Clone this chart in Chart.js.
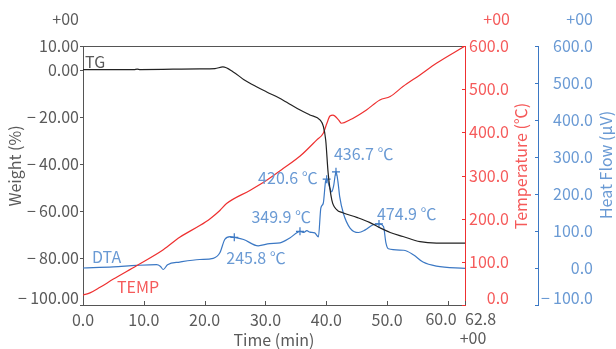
<!DOCTYPE html>
<html>
<head>
<meta charset="utf-8">
<script src="https://cdn.jsdelivr.net/npm/chart.js@4.4.1/dist/chart.umd.min.js"></script>
<style>
  body { margin: 0; background: #fff; }
  #wrap { width: 616px; height: 349px; }
</style>
</head>
<body>
<div id="wrap"><canvas id="chart-tga"></canvas></div>
<script>
// TG (weight %)
const tgTime = [0, 8.4, 8.9, 9.4, 19.2, 21.7, 23.0, 24.7, 26.4, 28.6, 30.2, 32.9, 35.7, 37.3, 39.0, 39.5, 39.9, 40.3, 40.9, 41.7, 42.7, 45.0, 47.1, 48.8, 50.5, 52.6, 55.4, 58.1, 62.8];
const tgWeight = [0, 0, 0.2, 0, 0.3, 0.4, 1.1, -1.0, -4.2, -7.4, -9.5, -13.0, -17.2, -19.3, -21.5, -24.0, -29.9, -43.9, -55.3, -59.5, -60.8, -62.8, -64.9, -67.2, -69.2, -70.9, -73.1, -73.7, -73.7];

// TEMP (℃)
const tempTime = [0, 1.15, 2.8, 5.0, 8.8, 13.2, 15.9, 19.2, 20.9, 22.5, 23.6, 27.5, 30.2, 32.9, 35.7, 38.4, 39.5, 40.1, 40.6, 41.1, 42.0, 42.5, 43.9, 46.6, 48.8, 50.5, 52.6, 55.4, 58.1, 62.8];
const tempValue = [23, 28, 41, 60, 91, 128, 157, 184, 200, 219, 235, 266, 289, 316, 345, 382, 398, 421, 438, 440, 429, 421, 429, 452, 475, 483, 506, 533, 560, 600];

// DTA (μV)
const dtaTime = [0, 5.0, 8.8, 12.1, 12.7, 13.2, 13.9, 15.9, 19.2, 21.4, 22.5, 23.3, 24.2, 24.9, 26.4, 28.8, 30.7, 32.4, 34.0, 35.7, 36.3, 36.8, 37.3, 38.1, 38.7, 39.1, 39.5, 39.9, 40.1, 40.5, 40.9, 41.2, 41.6, 41.9, 42.2, 42.8, 43.9, 45.3, 46.4, 47.7, 48.7, 49.4, 49.8, 50.2, 52.7, 54.3, 55.9, 58.1, 62.8];
const dtaHeat = [0, 3, 7, 9, 5, -4, 9, 16, 23, 26, 41, 77, 85, 83, 77, 60, 66, 68, 81, 99, 96, 101, 97, 95, 84, 162, 175, 236, 240, 220, 206, 222, 260, 235, 193, 148, 108, 96, 103, 117, 119, 112, 68, 52, 48, 36, 16, 5, -1];

// peaks
const peakTime = [24.87, 35.67, 40.06, 41.59, 48.66];
const peakHeat = [83, 99, 240, 260, 119];
const peakLabel = ["245.8 ℃", "349.9 ℃", "420.6 ℃", "436.7 ℃", "474.9 ℃"];

const xTicks = [0, 10, 20, 30, 40, 50, 60];
const yTicks = [-100, -80, -60, -40, -20, 0, 10];

const fontName = '"Noto Sans CJK JP", "Noto Sans", sans-serif';
const grey = "#5a5a5a";
const redText = "#f55a5a";
const blueText = "#6a9ad4";
const redLine = "#ee3030";
const blueLine = "#3b78c4";

function pts(xs, ys) {
  return xs.map((x, i) => ({ x: x, y: ys[i] }));
}

function minus(v, d) {
  return (v < 0 ? "\u2212\u2009" : "") + Math.abs(v).toFixed(d);
}

// label offsets around the + markers: [dx, dy, align]
const peakOffset = [
  [-8, 21, "left"],
  [11, -14, "right"],
  [-9, -1, "right"],
  [-2, -18, "left"],
  [-2, -10, "left"],
];

const extras = {
  id: "extras",
  afterDraw(chart) {
    const ctx = chart.ctx;
    const a = chart.chartArea;
    const s = chart.scales;
    ctx.save();
    ctx.lineWidth = 1;

    function seg(color, x1, y1, x2, y2) {
      ctx.strokeStyle = color;
      ctx.beginPath();
      ctx.moveTo(x1, y1);
      ctx.lineTo(x2, y2);
      ctx.stroke();
    }

    // top border
    seg("#555", a.left, Math.round(a.top) + 0.5, a.right, Math.round(a.top) + 0.5);

    // tick marks
    xTicks.concat([62.8]).forEach((v) => {
      const x = Math.round(s.x.getPixelForValue(v)) + 0.5;
      seg("#555", x, a.bottom, x, a.bottom - 4);
    });
    yTicks.forEach((v) => {
      const y = Math.round(s.y.getPixelForValue(v)) + 0.5;
      seg("#555", a.left - 3, y, a.left, y);
    });
    for (let v = 0; v <= 600; v += 100) {
      const y = Math.round(s.temp.getPixelForValue(v)) + 0.5;
      seg(redLine, a.right - 3, y, a.right, y);
    }
    for (let v = -100; v <= 600; v += 100) {
      const y = Math.round(s.heat.getPixelForValue(v)) + 0.5;
      seg(blueLine, s.heat.left - 3, y, s.heat.left, y);
    }

    ctx.font = "16px " + fontName;
    ctx.textBaseline = "middle";

    function text(str, x, y, color, align, rot) {
      ctx.save();
      ctx.fillStyle = color;
      ctx.textAlign = align;
      ctx.translate(x, y);
      if (rot) ctx.rotate(rot);
      ctx.fillText(str, 0, 0);
      ctx.restore();
    }

    // axis titles
    text("Weight (%)", 15, 166, grey, "center", -Math.PI / 2);
    text("Temperature (℃)", 521, 166, redText, "center", -Math.PI / 2);
    text("Heat Flow (μV)", 606, 165, blueText, "center", -Math.PI / 2);
    text("Time (min)", (a.left + a.right) / 2, 340, grey, "center");

    // exponent marks
    text("+00", 79, 19, grey, "right");
    text("+00", 510, 19, redText, "right");
    text("+00", 593, 19, blueText, "right");
    text("+00", 473, 338, grey, "center");

    // end labels, nudged so they do not collide
    text("60.0", s.x.getPixelForValue(60) - 7, 319, grey, "center");
    text("62.8", a.right, 319, grey, "left");
    text(minus(-100, 2), a.left - 4, a.bottom - 7, grey, "right");
    text("0.0", s.temp.right, a.bottom - 7, redText, "right");
    text(minus(-100, 1), s.heat.right, a.bottom - 7, blueText, "right");

    // series names
    text("TG", 85, 62, grey, "left");
    text("DTA", 92, 257, blueText, "left");
    text("TEMP", 117, 287, redText, "left");

    // peak labels
    const meta = chart.getDatasetMeta(3);
    meta.data.forEach((p, i) => {
      const o = peakOffset[i];
      text(peakLabel[i], p.x + o[0], p.y + o[1], blueText, o[2]);
    });

    ctx.restore();
  },
};

Chart.defaults.font.family = fontName;
Chart.defaults.font.size = 16;
Chart.defaults.color = grey;

const noGrid = { display: false, drawTicks: false, tickLength: 0 };

const ctx = document.getElementById("chart-tga");
const chart = new Chart(ctx, {
  type: "line",
  data: {
    datasets: [
      {
        label: "TG",
        data: pts(tgTime, tgWeight),
        yAxisID: "y",
        borderColor: "#222",
        borderWidth: 1.2,
        pointRadius: 0,
        cubicInterpolationMode: "monotone",
      },
      {
        label: "TEMP",
        data: pts(tempTime, tempValue),
        yAxisID: "temp",
        borderColor: redLine,
        borderWidth: 1.2,
        pointRadius: 0,
        cubicInterpolationMode: "monotone",
      },
      {
        label: "DTA",
        data: pts(dtaTime, dtaHeat),
        yAxisID: "heat",
        borderColor: blueLine,
        borderWidth: 1.2,
        pointRadius: 0,
        cubicInterpolationMode: "monotone",
      },
      {
        label: "peaks",
        data: pts(peakTime, peakHeat),
        yAxisID: "heat",
        showLine: false,
        pointStyle: "cross",
        pointRadius: 4,
        borderColor: blueLine,
        borderWidth: 1.2,
      },
    ],
  },
  options: {
    responsive: true,
    maintainAspectRatio: false,
    animation: false,
    layout: { padding: { top: 46, left: 0, right: 23, bottom: 0 } },
    plugins: {
      legend: { display: false },
      tooltip: { enabled: false },
    },
    scales: {
      x: {
        type: "linear",
        min: 0,
        max: 62.8,
        afterBuildTicks: (sc) => {
          sc.ticks = xTicks.map((v) => ({ value: v }));
        },
        afterFit: (sc) => {
          sc.height = 44;
        },
        grid: noGrid,
        border: { color: "#555", width: 1 },
        ticks: {
          padding: 5,
          maxRotation: 0,
          autoSkip: false,
          callback: (v) => (v === 60 ? "" : v.toFixed(1)),
        },
      },
      y: {
        position: "left",
        min: -100,
        max: 10,
        afterBuildTicks: (sc) => {
          sc.ticks = yTicks.map((v) => ({ value: v }));
        },
        afterFit: (sc) => {
          sc.width = 83;
        },
        grid: noGrid,
        border: { color: "#555", width: 1 },
        ticks: {
          padding: 4,
          callback: (v) => (v === -100 ? "" : minus(v, 2)),
        },
      },
      temp: {
        position: "right",
        weight: 0,
        min: 0,
        max: 600,
        afterFit: (sc) => {
          sc.width = 44;
        },
        grid: noGrid,
        border: { color: redLine, width: 1 },
        ticks: {
          stepSize: 100,
          color: redText,
          crossAlign: "far",
          callback: (v) => (v === 0 ? "" : v.toFixed(1)),
        },
      },
      gap: {
        type: "linear",
        position: "right",
        weight: 1,
        afterFit: (sc) => {
          sc.width = 29;
        },
        grid: noGrid,
        border: { display: false },
        ticks: { display: false },
      },
      heat: {
        position: "right",
        weight: 2,
        min: -100,
        max: 600,
        afterFit: (sc) => {
          sc.width = 55;
        },
        grid: noGrid,
        border: { color: blueLine, width: 1 },
        ticks: {
          stepSize: 100,
          color: blueText,
          crossAlign: "far",
          callback: (v) => (v === -100 ? "" : minus(v, 1)),
        },
      },
    },
  },
  plugins: [extras],
});
</script>
</body>
</html>
